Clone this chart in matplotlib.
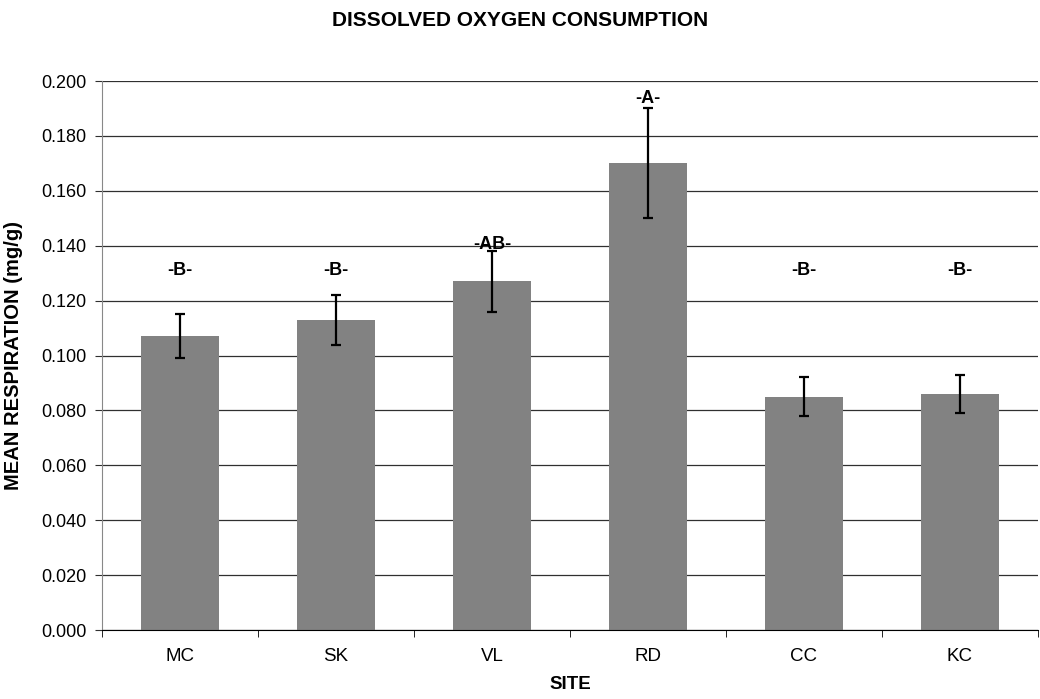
import matplotlib
matplotlib.use("Agg")
import matplotlib.pyplot as plt
import numpy as np
from matplotlib.ticker import FixedLocator, NullFormatter

plt.rcParams['font.family'] = ['Liberation Sans', 'DejaVu Sans']

sites = ["MC", "SK", "VL", "RD", "CC", "KC"]
means = [0.107, 0.113, 0.127, 0.170, 0.085, 0.086]
errors = [0.008, 0.009, 0.011, 0.020, 0.007, 0.007]
groups = ["-B-", "-B-", "-AB-", "-A-", "-B-", "-B-"]
group_y = [0.131, 0.131, 0.1405, 0.1935, 0.131, 0.131]
yticks = [0.000, 0.020, 0.040, 0.060, 0.080, 0.100, 0.120, 0.140, 0.160, 0.180, 0.200]

fig = plt.figure(figsize=(10.40, 6.99), dpi=100)
ax = fig.add_axes([0.098, 0.0987, 0.900, 0.7854])

x = np.arange(len(sites))
ax.set_axisbelow(True)
ax.yaxis.grid(True, color='#303030', linewidth=0.9)
ax.bar(x, means, width=0.5, color='#828282', edgecolor='none', zorder=2)
ax.errorbar(x, means, yerr=errors, fmt='none', ecolor='black', elinewidth=1.6,
            capsize=3.8, capthick=1.6, zorder=3)
for xi, lab, gy in zip(x, groups, group_y):
    ax.text(xi, gy, lab, ha='center', va='center', fontsize=13, fontweight='bold')

ax.set_xlim(-0.5, len(sites) - 0.5)
ax.set_ylim(0, 0.2)
ax.set_yticks(yticks)
ax.set_yticklabels([f"{v:.3f}" for v in yticks], fontsize=13)
ax.set_xticks(x)
ax.set_xticklabels(sites, fontsize=13.5)
ax.tick_params(axis='x', which='major', length=0, pad=13)
ax.xaxis.set_minor_locator(FixedLocator(np.arange(-0.5, len(sites), 1.0)))
ax.xaxis.set_minor_formatter(NullFormatter())
ax.tick_params(axis='x', which='minor', length=5, direction='out', color='black')
ax.tick_params(axis='y', length=5, direction='out', color='#303030', pad=6)

for s in ['top', 'right']:
    ax.spines[s].set_visible(False)
ax.spines['left'].set_color('#888888')
ax.spines['bottom'].set_color('black')

ax.set_xlabel("SITE", fontsize=13.5, fontweight='bold', va='center')
ax.xaxis.set_label_coords(0.5, -0.1)
ax.set_ylabel("MEAN RESPIRATION (mg/g)", fontsize=14.5, fontweight='bold')
ax.yaxis.set_label_coords(-0.084, 0.5)
fig.text(0.5, 0.97, "DISSOLVED OXYGEN CONSUMPTION", ha='center', va='center',
         fontsize=15, fontweight='bold')

fig.savefig("out.png", dpi=100)
